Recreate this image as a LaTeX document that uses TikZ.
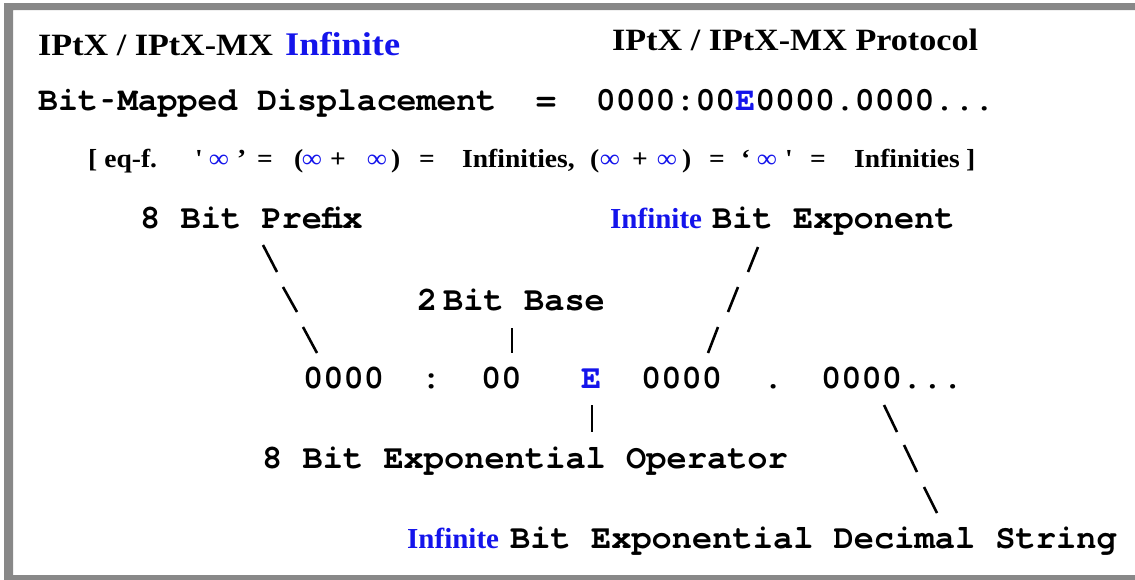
\documentclass[tikz,border=0pt]{standalone}
\usepackage{fontspec}
\usepackage{graphicx}
\newfontfamily\tnrA{Liberation Serif}[FakeStretch=1.1]
\newfontfamily\tnrB{Liberation Serif}
\newfontfamily\tnrC{Liberation Serif}[FakeStretch=1.06]
\newfontfamily\cour{TeX Gyre Cursor}
\newcommand\shy{\makebox[0.6em]{\scalebox{0.6}[1]{-}}}
\definecolor{ablue}{RGB}{20,20,235}
\definecolor{framegray}{RGB}{136,136,136}
\begin{document}
\begin{tikzpicture}[x=1pt,y=-1pt,
  hd/.style={inner sep=0pt, anchor=base west, font=\tnrA\bfseries\fontsize{31}{33}\selectfont},
  mono/.style={inner sep=0pt, anchor=base west, font=\cour\bfseries\fontsize{33.7}{36}\selectfont},
  lbl/.style={inner sep=0pt, anchor=base west, font=\tnrB\bfseries\fontsize{29}{31}\selectfont, text=ablue},
  eq/.style={inner sep=0pt, anchor=base west, font=\tnrC\bfseries\fontsize{26}{28}\selectfont},
  inf/.style={eq, text=ablue},
  slash/.style={line width=2.6pt, line cap=butt}]
\useasboundingbox (0,0) rectangle (1135,579);
\fill[framegray, even odd rule] (4,3) rectangle (1150,590) (13,10) rectangle (1140,575);

% headings
\node[hd] (t1) at (38,55) {IPtX / IPtX-MX};
\node[hd, text=ablue, font=\tnrA\bfseries\fontsize{33}{35}\selectfont] (t2) at (285,55) {Infinite};
\node[hd] (t3) at (612,50) {IPtX / IPtX-MX Protocol};

% line 2
\node[mono, font=\cour\bfseries\fontsize{33.2}{36}\selectfont] (l2) at (38,110) {Bit\shy Mapped Displacement~~=~~0000:00\textcolor{ablue}{E}0000.0000...};

% line 3
\node[eq] (e1) at (88,167) {[ eq-f.};
\node[eq] (e2) at (195,167) {\textquotesingle};
\node[inf] (e3) at (209,167) {∞};
\node[eq] (e4) at (237,167) {’};
\node[eq] (e5) at (257,167) {=};
\node[eq] (e6) at (294,167) {(};
\node[inf] (e7) at (302,167) {∞};
\node[eq] (e8) at (330,167) {+};
\node[inf] (e9) at (367,167) {∞};
\node[eq] (e10) at (391,167) {)};
\node[eq] (e11) at (419,167) {=};
\node[eq] (e12) at (462,167) {Infinities,};
\node[eq] (e13) at (590,167) {(};
\node[inf] (e14) at (600,167) {∞};
\node[eq] (e15) at (632,167) {+};
\node[inf] (e16) at (657,167) {∞};
\node[eq] (e17) at (682,167) {)};
\node[eq] (e18) at (709,167) {=};
\node[eq] (e19) at (741,167) {‘};
\node[inf] (e20) at (757,167) {∞};
\node[eq] (e21) at (785,167) {\textquotesingle};
\node[eq] (e22) at (810,167) {=};
\node[eq] (e23) at (854,167) {Infinities};
\node[eq] (e24) at (966,167) {]};

% labels
\node[mono] (p1) at (140,228) {8 Bit Prefix};
\node[lbl] (p2) at (610,228) {Infinite};
\node[mono] (p3) at (712,228) {Bit Exponent};
\node[mono] (b1) at (417,310) {2};
\node[mono] (b2) at (443,310) {Bit Base};

% number line
\node[mono] (n1) at (303,388) {0000};
\node[mono] (n2) at (421,388) {:};
\node[mono] (n3) at (481,388) {00};
\node[mono, text=ablue] (n4) at (581,388) {E};
\node[mono] (n5) at (641,388) {0000};
\node[mono] (n6) at (763,388) {.};
\node[mono] (n7) at (821,388) {0000...};

\node[mono] (o1) at (262,468) {8 Bit Exponential Operator};
\node[lbl] (d1) at (407,548) {Infinite};
\node[mono] (d2) at (510,548) {Bit Exponential Decimal String};

% slash connectors
\coordinate (a1) at (263,245); \coordinate (a2) at (277,272);
\coordinate (a3) at (283,287); \coordinate (a4) at (297,312);
\coordinate (a5) at (303,327); \coordinate (a6) at (317,353);
\coordinate (c1) at (512,328); \coordinate (c2) at (512,353);
\coordinate (r1) at (758,247); \coordinate (r2) at (748,272);
\coordinate (r3) at (738,287); \coordinate (r4) at (728,312);
\coordinate (r5) at (718,327); \coordinate (r6) at (708,353);
\coordinate (g1) at (592,405); \coordinate (g2) at (592,432);
\coordinate (s1) at (884,405); \coordinate (s2) at (897,432);
\coordinate (s3) at (904,445); \coordinate (s4) at (917,472);
\coordinate (s5) at (924,487); \coordinate (s6) at (937,513);
\draw[slash] (a1) -- (a2);
\draw[slash] (a3) -- (a4);
\draw[slash] (a5) -- (a6);
\draw[slash] (c1) -- (c2);
\draw[slash] (r1) -- (r2);
\draw[slash] (r3) -- (r4);
\draw[slash] (r5) -- (r6);
\draw[slash] (g1) -- (g2);
\draw[slash] (s1) -- (s2);
\draw[slash] (s3) -- (s4);
\draw[slash] (s5) -- (s6);
\end{tikzpicture}
\end{document}
